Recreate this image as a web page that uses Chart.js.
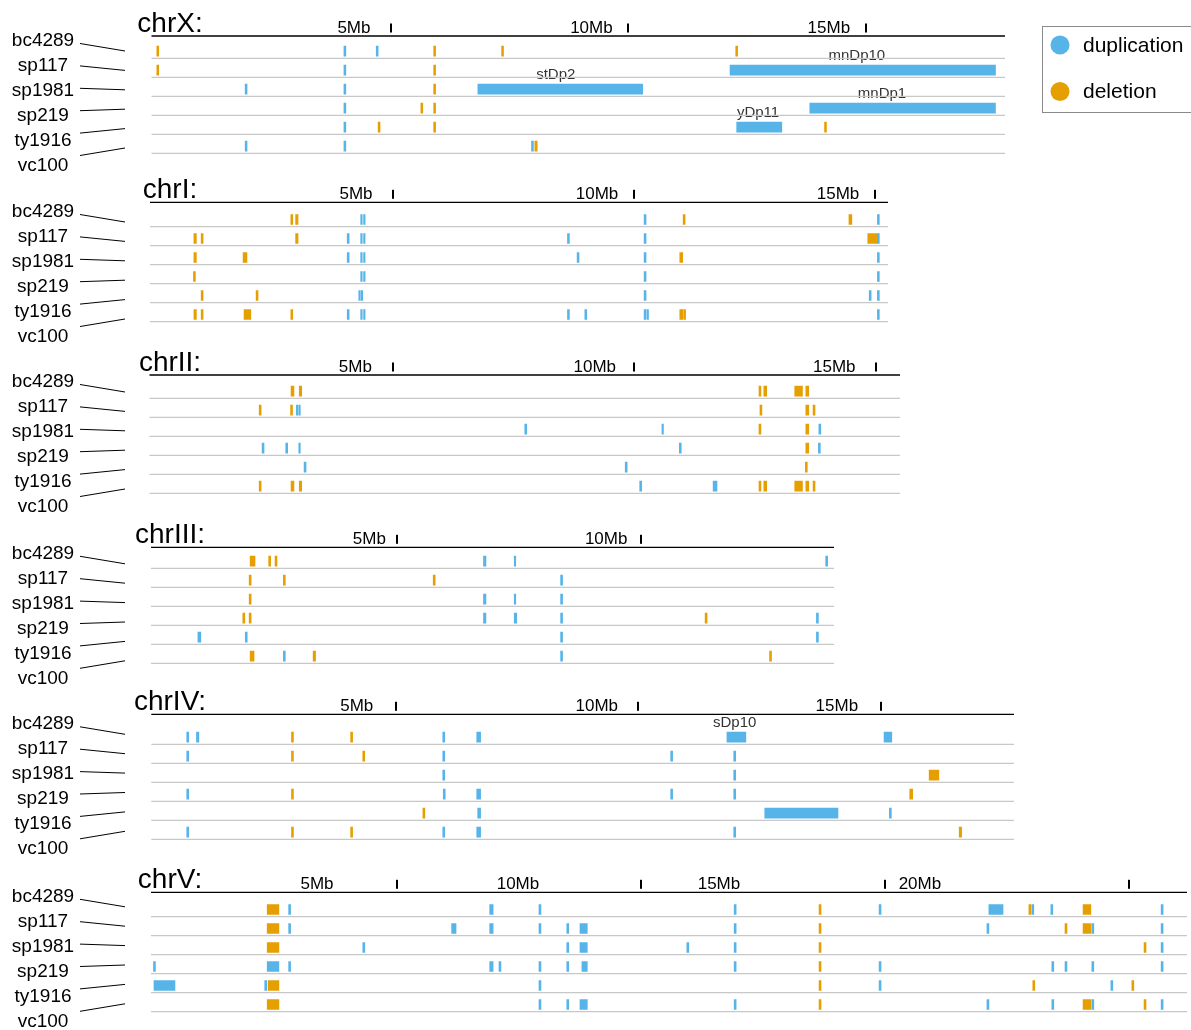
<!DOCTYPE html>
<html>
<head>
<meta charset="utf-8">
<title>Duplications and deletions by chromosome</title>
<script src="https://cdn.jsdelivr.net/npm/chart.js@4.4.1/dist/chart.umd.min.js"></script>
<style>
html, body { margin: 0; padding: 0; background: #fff; }
body { width: 1191px; height: 1030px; position: relative; overflow: hidden; }
canvas { position: absolute; left: 0; }
</style>
</head>
<body>
<script>
// ---- data (positions in Mb; each event is [strain index, start, end]) ----
const strains = ['bc4289', 'sp117', 'sp1981', 'sp219', 'ty1916', 'vc100'];
const legendLabels = ['duplication', 'deletion'];

const ticksX = [5, 10, 15];
const dupX = [
  [0,4.01,4.05],[0,4.69,4.73],
  [1,4.01,4.05],[1,12.14,17.73],
  [2,1.93,1.97],[2,4.01,4.05],[2,6.83,10.30],
  [3,4.01,4.05],[3,13.82,17.73],
  [4,4.01,4.05],[4,12.28,13.23],
  [5,1.93,1.97],[5,4.01,4.05],[5,7.96,8.00]
];
const delX = [
  [0,0.07,0.11],[0,5.90,5.94],[0,7.33,7.37],[0,12.26,12.30],
  [1,0.07,0.11],[1,5.90,5.94],
  [2,5.90,5.94],
  [3,5.63,5.67],[3,5.90,5.94],
  [4,4.73,4.77],[4,5.90,5.94],[4,14.13,14.17],
  [5,8.03,8.08]
];
const namesX = [[1,'mnDp10',14.81],[2,'stDp2',8.47],[3,'mnDp1',15.34],[4,'yDp11',12.73]];

const ticksI = [5, 10, 15];
const dupI = [
  [0,4.33,4.36],[0,4.39,4.42],[0,10.21,10.25],[0,15.05,15.09],
  [1,4.05,4.09],[1,4.33,4.36],[1,4.39,4.42],[1,8.62,8.66],[1,10.21,10.25],[1,15.05,15.09],
  [2,4.05,4.09],[2,4.33,4.36],[2,4.39,4.42],[2,8.82,8.86],[2,10.21,10.25],[2,15.05,15.09],
  [3,4.33,4.36],[3,4.39,4.42],[3,10.21,10.25],[3,15.05,15.09],
  [4,4.29,4.32],[4,4.34,4.37],[4,10.21,10.25],[4,14.88,14.92],[4,15.05,15.09],
  [5,4.05,4.09],[5,4.33,4.36],[5,4.39,4.42],[5,8.62,8.66],[5,8.98,9.02],[5,10.21,10.25],[5,10.27,10.30],[5,15.05,15.09]
];
const delI = [
  [0,2.88,2.92],[0,2.98,3.03],[0,11.02,11.06],[0,14.46,14.52],
  [1,0.87,0.92],[1,1.02,1.06],[1,2.98,3.03],[1,14.85,15.05],
  [2,0.87,0.92],[2,1.89,1.97],[2,10.95,11.01],
  [3,0.86,0.90],
  [4,1.02,1.06],[4,2.16,2.20],
  [5,0.87,0.92],[5,1.02,1.06],[5,1.91,2.05],[5,2.88,2.92],[5,10.95,11.01],[5,11.03,11.07]
];

const ticksII = [5, 10, 15];
const dupII = [
  [1,3.00,3.03],[1,3.05,3.07],
  [2,7.73,7.77],[2,10.57,10.60],[2,13.82,13.86],
  [3,2.29,2.33],[3,2.78,2.82],[3,3.05,3.07],[3,10.93,10.97],[3,13.81,13.85],
  [4,3.16,3.20],[4,9.81,9.85],
  [5,10.11,10.15],[5,11.63,11.71]
];
const delII = [
  [0,2.89,2.95],[0,3.06,3.11],[0,12.58,12.62],[0,12.68,12.74],[0,13.32,13.48],[0,13.55,13.61],
  [1,2.23,2.27],[1,2.88,2.92],[1,12.60,12.64],[1,13.55,13.61],[1,13.70,13.74],
  [2,12.58,12.62],[2,13.55,13.61],
  [3,13.55,13.61],
  [4,13.54,13.58],
  [5,2.23,2.27],[5,2.89,2.95],[5,3.06,3.11],[5,12.58,12.62],[5,12.68,12.74],[5,13.32,13.48],[5,13.55,13.61],[5,13.70,13.74]
];

const ticksIII = [5, 10];
const dupIII = [
  [0,6.77,6.82],[0,7.40,7.43],[0,13.78,13.82],
  [1,8.35,8.39],
  [2,6.77,6.82],[2,7.40,7.43],[2,8.35,8.39],
  [3,6.77,6.82],[3,7.40,7.45],[3,8.35,8.39],[3,13.59,13.63],
  [4,0.92,0.98],[4,1.89,1.93],[4,8.35,8.39],[4,13.59,13.63],
  [5,2.67,2.71],[5,8.35,8.39]
];
const delIII = [
  [0,1.99,2.09],[0,2.37,2.41],[0,2.50,2.54],
  [1,1.97,2.01],[1,2.67,2.71],[1,5.74,5.78],
  [2,1.97,2.01],
  [3,1.84,1.88],[3,1.97,2.01],[3,11.31,11.35],
  [5,1.99,2.07],[5,3.28,3.33],[5,12.63,12.67]
];

const ticksIV = [5, 10, 15];
const dupIV = [
  [0,0.69,0.73],[0,0.89,0.94],[0,5.97,6.01],[0,6.67,6.75],[0,11.83,12.22],[0,15.07,15.23],
  [1,0.69,0.73],[1,5.97,6.01],[1,10.67,10.71],[1,11.97,12.01],
  [2,5.97,6.01],[2,11.97,12.01],
  [3,0.69,0.73],[3,5.98,6.02],[3,6.67,6.75],[3,10.67,10.71],[3,11.97,12.01],
  [4,6.69,6.75],[4,12.61,14.12],[4,15.18,15.22],
  [5,0.69,0.73],[5,5.97,6.01],[5,6.67,6.75],[5,11.97,12.01]
];
const delIV = [
  [0,2.85,2.89],[0,4.07,4.11],
  [1,2.85,2.89],[1,4.32,4.36],
  [2,16.00,16.20],
  [3,2.85,2.89],[3,15.60,15.66],
  [4,5.56,5.60],
  [5,2.85,2.89],[5,4.07,4.11],[5,16.62,16.67]
];
const namesIV = [[0,'sDp10',11.99]];

const ticksV = [5, 10, 15, 20];
const dupV = [
  [0,2.78,2.82],[0,6.90,6.97],[0,7.91,7.95],[0,11.91,11.95],[0,14.88,14.92],[0,17.13,17.42],[0,18.01,18.05],[0,18.40,18.44],[0,20.66,20.70],
  [1,2.78,2.82],[1,6.12,6.21],[1,6.90,6.97],[1,7.91,7.95],[1,8.48,8.52],[1,8.75,8.90],[1,11.91,11.95],[1,17.09,17.13],[1,19.24,19.28],[1,20.66,20.70],
  [2,4.30,4.34],[2,8.48,8.52],[2,8.75,8.90],[2,10.94,10.98],[2,11.91,11.95],[2,20.66,20.70],
  [3,0.01,0.05],[3,2.34,2.58],[3,2.78,2.82],[3,6.90,6.97],[3,7.09,7.13],[3,7.91,7.95],[3,8.48,8.52],[3,8.79,8.90],[3,11.91,11.95],[3,14.88,14.92],[3,18.42,18.46],[3,18.69,18.73],[3,19.24,19.28],[3,20.66,20.70],
  [4,0.02,0.45],[4,2.29,2.33],[4,7.91,7.95],[4,14.88,14.92],[4,19.63,19.67],
  [5,7.91,7.95],[5,8.48,8.52],[5,8.75,8.90],[5,11.91,11.95],[5,17.09,17.13],[5,18.42,18.46],[5,19.24,19.28],[5,20.66,20.70]
];
const delV = [
  [0,2.34,2.58],[0,13.65,13.69],[0,17.95,17.99],[0,19.06,19.22],
  [1,2.34,2.58],[1,13.65,13.69],[1,18.69,18.73],[1,19.06,19.22],
  [2,2.34,2.58],[2,13.65,13.69],[2,20.31,20.35],
  [3,13.65,13.69],
  [4,2.36,2.58],[4,13.65,13.69],[4,18.03,18.07],[4,20.06,20.10],
  [5,2.34,2.58],[5,13.65,13.69],[5,19.06,19.22],[5,20.31,20.35]
];

// ---- styling / layout ----
const DUP_COLOR = '#56B4E9';
const DEL_COLOR = '#E69F00';
const FONT = '"Liberation Sans", Arial, Helvetica, sans-serif';
const W = 1191;
const ROW_H = 19;        // height of one strain track
const ROW_POS = 0.62;    // vertical placement of marks inside a track
const BAR_H = 10;

const panels = [
  { title: 'chrX:',   dup: dupX,   del: delX,   ticks: ticksX,   names: namesX, len: 17.93, left: 153.5, right: 1005, axisY: 36,    plotTop: 39.3,  mid: 99.5,  shift: [37, 0],     legend: true },
  { title: 'chrI:',   dup: dupI,   del: delI,   ticks: ticksI,   names: [],     len: 15.27, left: 152,   right: 888,  axisY: 202.3, plotTop: 207.7, mid: 270.5, shift: [37, 0] },
  { title: 'chrII:',  dup: dupII,  del: delII,  ticks: ticksII,  names: [],     len: 15.50, left: 151.5, right: 900,  axisY: 375,   plotTop: 379.3, mid: 440.5, shift: [35.6, 0.4] },
  { title: 'chrIII:', dup: dupIII, del: delIII, ticks: ticksIII, names: [],     len: 13.95, left: 153,   right: 834,  axisY: 547.3, plotTop: 549.3, mid: 612.3, shift: [20.4, 1.46] },
  { title: 'chrIV:',  dup: dupIV,  del: delIV,  ticks: ticksIV,  names: namesIV, len: 17.75, left: 153.3, right: 1014, axisY: 714.3, plotTop: 725.3, mid: 782.8, shift: [36.6, 0.48] },
  { title: 'chrV:',   dup: dupV,   del: delV,   ticks: ticksV,   names: [],     len: 21.19, left: 153,   right: 1187, axisY: 892.3, plotTop: 897.7, mid: 955.3, shift: [37, 8.6] }
];

function toPoints(events) {
  return events.map(e => ({ x: [e[1], e[2]], y: e[0] + ROW_POS }));
}

function decorations(p, T) {
  return {
    id: 'decor',
    beforeDatasetsDraw(chart) {
      const ctx = chart.ctx;
      const xs = chart.scales.x, ys = chart.scales.y;
      const area = chart.chartArea;
      ctx.save();

      // names of the large duplications, sitting above their bars
      ctx.fillStyle = '#333';
      ctx.font = '15px ' + FONT;
      ctx.textAlign = 'center';
      ctx.textBaseline = 'alphabetic';
      p.names.forEach(n => {
        const top = ys.getPixelForValue(n[0] + ROW_POS) - BAR_H / 2;
        ctx.fillText(n[1], xs.getPixelForValue(n[2]), top - 5);
      });

      // track separators
      ctx.strokeStyle = '#c8c8c8';
      ctx.lineWidth = 1.2;
      for (let k = 1; k <= strains.length; k++) {
        const y = ys.getPixelForValue(k);
        ctx.beginPath();
        ctx.moveTo(area.left - 2, y);
        ctx.lineTo(area.right, y);
        ctx.stroke();
      }

      // chromosome axis line
      const ay = p.axisY - T;
      ctx.strokeStyle = '#000';
      ctx.lineWidth = 1.3;
      ctx.beginPath();
      ctx.moveTo(area.left - 2, ay);
      ctx.lineTo(area.right, ay);
      ctx.stroke();

      // megabase ticks and their labels
      ctx.fillStyle = '#000';
      ctx.font = '17px ' + FONT;
      ctx.textAlign = 'center';
      p.ticks.forEach(v => {
        const x = xs.getPixelForValue(v);
        ctx.fillRect(Math.round(x) - 1, ay - 12.5, 2, 9);
        ctx.fillText(v + 'Mb', x - (p.shift[0] + p.shift[1] * v), ay - 3.5);
      });

      // chromosome title
      ctx.font = '28px ' + FONT;
      ctx.fillText(p.title, 170, ay - 4);

      // strain labels with connectors to their tracks
      ctx.font = '19px ' + FONT;
      ctx.textBaseline = 'middle';
      ctx.lineWidth = 1;
      strains.forEach((s, i) => {
        const d = i - (strains.length - 1) / 2;
        const m = p.mid - T;
        ctx.fillText(s, 43, m + 3.5 + d * 25);
        ctx.beginPath();
        ctx.moveTo(80, m + d * 22.4);
        ctx.lineTo(125, m + d * 19.4);
        ctx.stroke();
      });
      ctx.restore();
    },
    afterDraw(chart) {
      if (!p.legend) return;
      const ctx = chart.ctx;
      ctx.save();
      ctx.strokeStyle = '#8a8a8a';
      ctx.lineWidth = 1;
      ctx.strokeRect(1042.5, 26.5 - T, 170, 86);
      const colors = [DUP_COLOR, DEL_COLOR];
      const rowsY = [45, 91.5];
      ctx.font = '21px ' + FONT;
      ctx.textAlign = 'left';
      ctx.textBaseline = 'middle';
      legendLabels.forEach((lab, i) => {
        ctx.fillStyle = colors[i];
        ctx.beginPath();
        ctx.arc(1060, rowsY[i] - T, 9.5, 0, Math.PI * 2);
        ctx.fill();
        ctx.fillStyle = '#000';
        ctx.fillText(lab, 1083, rowsY[i] - T + 1);
      });
      ctx.restore();
    }
  };
}

panels.forEach(p => {
  const T = Math.max(0, Math.floor(p.axisY - 36));
  const H = 192;
  const cv = document.createElement('canvas');
  cv.width = W;
  cv.height = H;
  cv.style.top = T + 'px';
  cv.style.width = W + 'px';
  cv.style.height = H + 'px';
  document.body.appendChild(cv);

  const plotBottom = p.plotTop + strains.length * ROW_H;
  new Chart(cv, {
    type: 'bar',
    data: {
      datasets: [
        { label: legendLabels[0], data: toPoints(p.dup), backgroundColor: DUP_COLOR, grouped: false, barThickness: BAR_H, minBarLength: 1.5 },
        { label: legendLabels[1], data: toPoints(p.del), backgroundColor: DEL_COLOR, grouped: false, barThickness: BAR_H, minBarLength: 1.5 }
      ]
    },
    options: {
      indexAxis: 'y',
      responsive: false,
      animation: false,
      devicePixelRatio: 1,
      events: [],
      layout: { padding: { left: p.left, right: W - p.right, top: p.plotTop - T, bottom: H - (plotBottom - T) } },
      scales: {
        x: { type: 'linear', min: 0, max: p.len, offset: false, display: false },
        y: { type: 'linear', min: 0, max: strains.length, reverse: true, offset: false, display: false }
      },
      plugins: { legend: { display: false }, tooltip: { enabled: false } }
    },
    plugins: [decorations(p, T)]
  });
});
</script>
</body>
</html>
